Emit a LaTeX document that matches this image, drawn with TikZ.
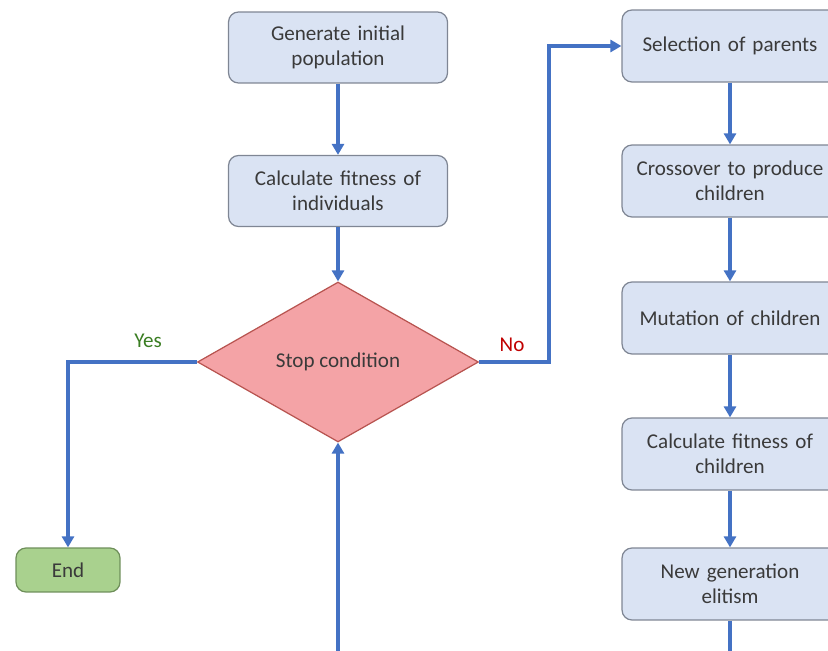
\documentclass[tikz,border=0pt]{standalone}
\usepackage{fontspec}
\setmainfont{Carlito}
\usetikzlibrary{shapes.geometric,arrows.meta}
\definecolor{boxfill}{HTML}{DAE3F3}
\definecolor{boxdraw}{HTML}{7F8694}
\definecolor{arrowblue}{HTML}{4472C4}
\definecolor{diafill}{HTML}{F4A3A6}
\definecolor{diadraw}{HTML}{B85450}
\definecolor{endfill}{HTML}{A9D18E}
\definecolor{enddraw}{HTML}{6E8F5A}
\definecolor{txt}{HTML}{3A3A3A}
\definecolor{yesgreen}{HTML}{3A7D22}
\definecolor{nored}{HTML}{C00000}
\begin{document}
\begin{tikzpicture}[x=0.02cm,y=-0.02cm,
  procbox/.style={draw=boxdraw,fill=boxfill,rounded corners=0.2cm,line width=0.7pt,
    align=center,text=txt,font=\fontsize{12}{14.5}\selectfont,inner sep=2pt},
  leftbox/.style={procbox,minimum width=4.38cm,minimum height=1.42cm,text width=4cm},
  rightbox/.style={procbox,minimum width=4.32cm,minimum height=1.44cm,text width=4cm},
  flow/.style={draw=arrowblue,line width=2.2pt,-{Triangle[length=0.22cm,width=0.24cm]}},
  lbl/.style={font=\fontsize{12}{14.5}\selectfont}]
\clip (0,0) rectangle (828,651);
\useasboundingbox (0,0) rectangle (828,651);

\node[leftbox] (gen) at (338,47.5) {Generate initial\\population};
\node[leftbox] (calc) at (338,191) {Calculate fitness of\\individuals};
\node[draw=diadraw,fill=diafill,diamond,minimum width=5.62cm,minimum height=3.2cm,
  inner sep=0pt,line width=0.7pt,text=txt,font=\fontsize{12}{14.5}\selectfont] (stop) at (338,362) {Stop condition};
\node[procbox,fill=endfill,draw=enddraw,minimum width=2.08cm,minimum height=0.88cm] (end) at (68,570) {End};

\node[rightbox] (sel) at (730,46) {Selection of parents};
\node[rightbox] (cross) at (730,181) {Crossover to produce\\children};
\node[rightbox] (mut) at (730,318) {Mutation of children};
\node[rightbox] (cfc) at (730,454) {Calculate fitness of\\children};
\node[rightbox] (newg) at (730,584) {New generation\\elitism};

\draw[flow] (gen) -- (calc);
\draw[flow] (calc) -- (stop);
\draw[flow] (stop.west) -| (end.north);
\coordinate (nocorner) at (549,362);
\draw[flow] (stop.east) -- (nocorner) |- (sel.west);
\draw[flow] (sel) -- (cross);
\draw[flow] (cross) -- (mut);
\draw[flow] (mut) -- (cfc);
\draw[flow] (cfc) -- (newg);
\coordinate (bot) at (338,652.5);
\draw[flow] (newg.south) |- (bot) -- (stop.south);

\node[lbl,text=yesgreen] (yes) at (148,341) {Yes};
\node[lbl,text=nored] (no) at (512,345) {No};
\end{tikzpicture}
\end{document}
